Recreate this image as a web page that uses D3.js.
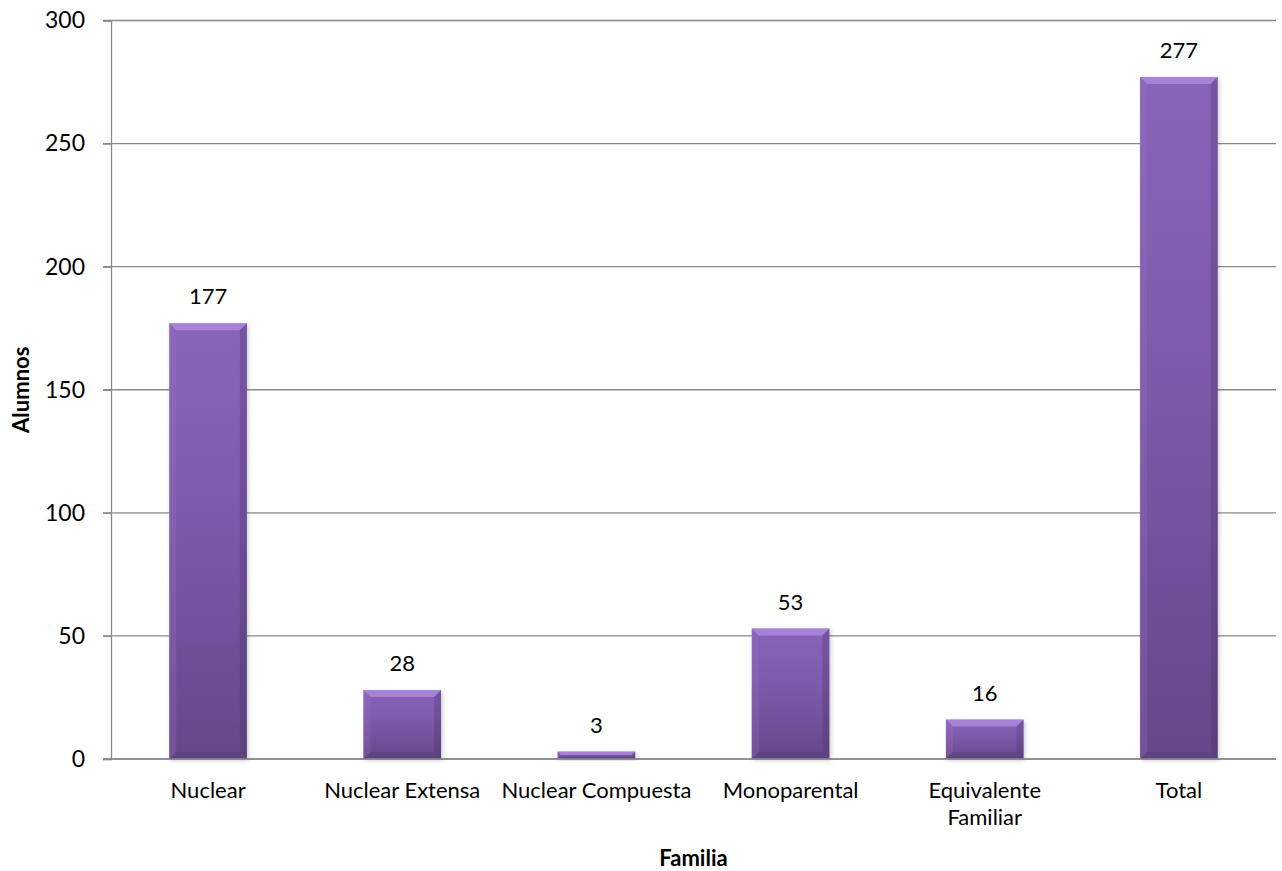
<!DOCTYPE html>
<html>
<head>
<meta charset="utf-8">
<script src="https://cdn.jsdelivr.net/npm/d3@7"></script>
<style>
  html, body { margin: 0; padding: 0; background: #fff; }
  svg { display: block; font-family: Lato, "Open Sans", sans-serif; }
</style>
</head>
<body>
<svg id="chart" width="1282" height="871"></svg>
<script>
const categories = ["Nuclear", "Nuclear Extensa", "Nuclear Compuesta", "Monoparental", "Equivalente Familiar", "Total"];
const values = [177, 28, 3, 53, 16, 277];
const yTicks = [0, 50, 100, 150, 200, 250, 300];
const xTitle = "Familia";
const yTitle = "Alumnos";

const svg = d3.select("#chart");
const margin = { left: 111, right: 6, top: 20.5, bottom: 112 };
const W = 1282, H = 871;
const x = d3.scaleBand().domain(categories).range([margin.left, W - margin.right]).paddingInner(0.6).paddingOuter(0.3);
const y = d3.scaleLinear().domain([0, 300]).range([759, 20.5]);

const defs = svg.append("defs");
const grad = defs.append("linearGradient").attr("id", "barGrad").attr("x1", 0).attr("y1", 0).attr("x2", 0).attr("y2", 1);
grad.append("stop").attr("offset", "0%").attr("stop-color", "#8a64ba");
grad.append("stop").attr("offset", "45%").attr("stop-color", "#7d59aa");
grad.append("stop").attr("offset", "100%").attr("stop-color", "#654889");
const filt = defs.append("filter").attr("id", "shadow").attr("x", "-20%").attr("y", "-20%").attr("width", "140%").attr("height", "140%");
filt.append("feDropShadow").attr("dx", 1.5).attr("dy", 1.5).attr("stdDeviation", 2).attr("flood-color", "#000").attr("flood-opacity", 0.2);

// gridlines
svg.append("g").selectAll("line").data(yTicks).join("line")
  .attr("x1", margin.left - 8).attr("x2", W - margin.right)
  .attr("y1", d => y(d)).attr("y2", d => y(d))
  .attr("stroke", "#8a8a8a").attr("stroke-width", 1.3);

// y axis
const yAxis = d3.axisLeft(y).tickValues(yTicks).tickSize(8).tickPadding(18);
const gy = svg.append("g").attr("transform", `translate(${margin.left},0)`).call(yAxis);
gy.select(".domain").attr("stroke", "#8a8a8a").attr("stroke-width", 1.3);
gy.selectAll(".tick line").attr("stroke", "#8a8a8a").attr("stroke-width", 1.3);
gy.selectAll(".tick text").attr("font-size", 23).attr("fill", "#000").attr("font-family", "Lato, sans-serif");

// bars
const bw = x.bandwidth();
const bars = svg.append("g").selectAll("g").data(categories).join("g");
bars.each(function(c, i) {
  const g = d3.select(this);
  const x0 = x(c), y0 = y(values[i]), h = y(0) - y0;
  const b = Math.min(7, h / 2);
  g.append("rect").attr("x", x0).attr("y", y0).attr("width", bw).attr("height", h)
    .attr("fill", "url(#barGrad)").attr("filter", "url(#shadow)");
  // top bevel
  g.append("path").attr("d", `M${x0},${y0}L${x0 + bw},${y0}L${x0 + bw - b},${y0 + b}L${x0 + b},${y0 + b}Z`)
    .attr("fill", "#b291e2").attr("opacity", 0.7);
  // left bevel
  g.append("path").attr("d", `M${x0},${y0}L${x0 + b},${y0 + b}L${x0 + b},${y0 + h - b}L${x0},${y0 + h}Z`)
    .attr("fill", "#9a74c8").attr("opacity", 0.25);
  // right bevel
  g.append("path").attr("d", `M${x0 + bw},${y0}L${x0 + bw - b},${y0 + b}L${x0 + bw - b},${y0 + h - b}L${x0 + bw},${y0 + h}Z`)
    .attr("fill", "#3d2a5a").attr("opacity", 0.25);
  // bottom bevel
  g.append("path").attr("d", `M${x0},${y0 + h}L${x0 + b},${y0 + h - b}L${x0 + bw - b},${y0 + h - b}L${x0 + bw},${y0 + h}Z`)
    .attr("fill", "#3d2a5a").attr("opacity", 0.18);
  // value label
  g.append("text").attr("x", x0 + bw / 2).attr("y", y0 - 19).attr("text-anchor", "middle")
    .attr("font-size", 22).attr("fill", "#000").text(values[i]);
});

// x axis line (redraw on top)
svg.append("line").attr("x1", margin.left - 8).attr("x2", W - margin.right)
  .attr("y1", y(0)).attr("y2", y(0)).attr("stroke", "#8a8a8a").attr("stroke-width", 1.3);

// x labels
const wrapMap = { "Equivalente Familiar": ["Equivalente", "Familiar"] };
const xl = svg.append("g").selectAll("text").data(categories).join("text")
  .attr("x", d => x(d) + bw / 2).attr("y", 798).attr("text-anchor", "middle")
  .attr("font-size", 22).attr("fill", "#000");
xl.each(function(d) {
  const lines = wrapMap[d] || [d];
  const t = d3.select(this);
  lines.forEach((l, k) => t.append("tspan").attr("x", x(d) + bw / 2).attr("dy", k === 0 ? 0 : 27).text(l));
});

// titles
svg.append("text").attr("x", (margin.left + W - margin.right) / 2).attr("y", 866).attr("text-anchor", "middle")
  .attr("font-size", 22).attr("font-weight", "bold").attr("fill", "#000").text(xTitle);
svg.append("text").attr("transform", `translate(29,${(y(0) + y(300)) / 2}) rotate(-90)`).attr("text-anchor", "middle")
  .attr("font-size", 22).attr("font-weight", "bold").attr("fill", "#000").text(yTitle);
</script>
</body>
</html>
